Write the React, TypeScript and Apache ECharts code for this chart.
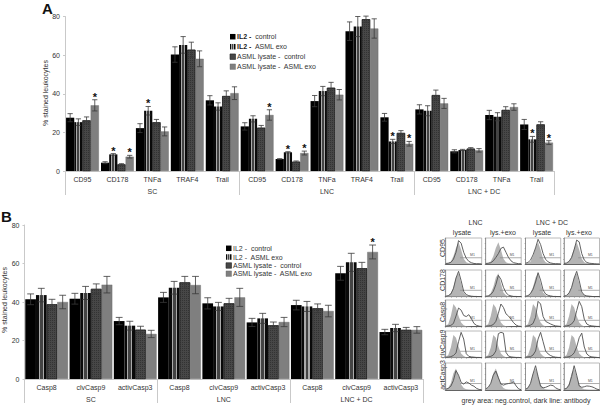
import React, { useEffect, useRef } from "react";
import * as echarts from "echarts";

const FONT = "Liberation Sans";

const seriesNames = ["IL2 -  control", "IL2 -  ASML exo", "ASML lysate -  control", "ASML lysate -  ASML exo"];

// Panel A
const categoriesA = ["CD95", "CD178", "TNFa", "TRAF4", "Trail", "CD95", "CD178", "TNFa", "TRAF4", "Trail", "CD95", "CD178", "TNFa", "Trail"];
const groupNamesA = ["SC", "LNC", "LNC + DC"];
const groupSizesA = [5, 5, 4];
const controlA = [27.6, 4.3, 22.2, 60.3, 36.6, 23.1, 6.2, 36.2, 72.4, 27.8, 31.9, 10.2, 29, 24.1];
const exoA = [25.3, 8.6, 31.2, 65.3, 33.4, 27, 9.7, 41.4, 74.8, 15.3, 31.2, 10.9, 28.1, 16.4];
const lysateA = [26.2, 3.4, 25.2, 62.8, 38.8, 22.4, 4.8, 43.1, 78.6, 19.7, 39.3, 11.6, 31.6, 24.1];
const lysExoA = [34, 7.4, 20.5, 58.1, 40.3, 29, 9.3, 39.5, 73.8, 14.1, 35, 10.7, 33.1, 14.7];
const controlErrA = [2.1, 0.5, 2.3, 4, 2.4, 1.9, 0.2, 2.9, 4.8, 2, 2.4, 0.8, 2.4, 2.6];
const exoErrA = [1.7, 0.4, 2.2, 4.3, 1.9, 1.6, 0.3, 2.4, 5.2, 1.1, 2.6, 0.3, 2.1, 1.5];
const lysateErrA = [1.8, 0.4, 1.5, 3.9, 2.7, 1.2, 0.4, 2.8, 1.6, 1.2, 2.6, 0.5, 1.7, 1.4];
const lysExoErrA = [2.9, 0.7, 2.3, 4.1, 3.3, 2.7, 1, 2.7, 5, 1.2, 2.6, 0.9, 1.7, 1];
const starsA = [[0, 3], [1, 1], [1, 3], [2, 1], [5, 3], [6, 1], [6, 3], [9, 1], [9, 3], [13, 1], [13, 3]];

// Panel B
const categoriesB = ["Casp8", "clvCasp9", "activCasp3", "Casp8", "clvCasp9", "activCasp3", "Casp8", "clvCasp9", "activCasp3"];
const groupNamesB = ["SC", "LNC", "LNC + DC"];
const groupSizesB = [3, 3, 3];
const controlB = [41.4, 41.7, 30.1, 42.4, 39.3, 29.4, 38.4, 54.9, 24.4];
const exoB = [43.6, 44.7, 27.7, 47.4, 37.7, 31.5, 37.7, 60.6, 26.5];
const lysateB = [38.8, 46.8, 25.6, 50.2, 39.3, 27.9, 36.7, 57.5, 25.5];
const lysExoB = [40, 49, 23.4, 48.8, 42.4, 29.6, 35.3, 66, 25.5];
const controlErrB = [2.8, 2.8, 1.9, 2.6, 2.9, 2.1, 2.5, 3.6, 1.4];
const exoErrB = [3.5, 3.4, 2.3, 3.3, 2.1, 2.6, 2.6, 4.7, 1.9];
const lysateErrB = [2.6, 2.6, 1.8, 3.1, 2.6, 1.7, 2.3, 3.1, 1.3];
const lysExoErrB = [3.5, 4.3, 1.9, 4.5, 4.7, 2.4, 3, 3.6, 1.7];
const starsB = [[7, 3]];

// Flow cytometry histograms (% of panel height per bin)
const rowNames = ["CD95", "CD178", "Casp8", "clvCasp9", "actCasp3"];
const negCD95 = [2, 4, 10, 30, 62, 84, 55, 20, 7, 3, 1, 0, 0, 0, 0];
const negCD178 = [2, 4, 14, 36, 72, 88, 50, 16, 5, 2, 1, 0, 0, 0, 0];
const negCasp8 = [3, 10, 40, 85, 72, 40, 16, 5, 2, 1, 0, 0, 0, 0, 0];
const negClv = [3, 10, 38, 85, 75, 42, 16, 6, 2, 1, 0, 0, 0, 0, 0];
const negAct = [3, 8, 25, 62, 80, 52, 20, 7, 3, 1, 0, 0, 0, 0, 0];
const negatives = [negCD95, negCD178, negCasp8, negClv, negAct];

const cd95Lys = [2, 3, 6, 18, 45, 90, 80, 45, 22, 10, 5, 2, 1, 1, 0];
const cd95Exo = [2, 3, 5, 12, 25, 40, 60, 65, 45, 25, 12, 5, 3, 1, 1];
const cd95DcLys = [3, 6, 15, 35, 62, 95, 75, 40, 18, 8, 4, 2, 1, 1, 0];
const cd95DcExo = [2, 4, 10, 25, 55, 92, 85, 40, 15, 6, 3, 2, 1, 0, 0];
const cd178Lys = [2, 4, 10, 30, 70, 95, 60, 20, 8, 4, 2, 1, 1, 0, 0];
const cd178Exo = [2, 3, 8, 20, 45, 80, 65, 35, 15, 6, 3, 1, 1, 0, 0];
const cd178DcLys = [2, 4, 12, 28, 55, 90, 62, 25, 10, 5, 3, 1, 1, 0, 0];
const cd178DcExo = [2, 5, 14, 35, 70, 95, 60, 18, 6, 3, 2, 1, 0, 0, 0];
const casp8Lys = [2, 3, 5, 12, 40, 70, 62, 42, 38, 45, 30, 12, 5, 2, 1];
const casp8Exo = [2, 3, 4, 8, 20, 50, 85, 72, 48, 40, 28, 15, 6, 2, 1];
const casp8DcLys = [2, 3, 6, 12, 35, 95, 85, 38, 20, 15, 10, 6, 3, 2, 1];
const casp8DcExo = [2, 3, 5, 10, 22, 60, 95, 75, 28, 10, 5, 3, 2, 1, 1];
const clvLys = [2, 2, 4, 8, 18, 60, 95, 70, 15, 5, 3, 2, 1, 1, 0];
const clvExo = [2, 3, 5, 10, 25, 90, 95, 92, 20, 6, 3, 2, 1, 1, 0];
const clvDcLys = [2, 3, 4, 10, 25, 70, 95, 60, 25, 14, 8, 4, 2, 1, 1];
const clvDcExo = [2, 2, 4, 8, 18, 40, 75, 92, 40, 14, 6, 3, 2, 1, 0];
const actLys = [3, 6, 14, 35, 72, 55, 28, 22, 30, 26, 18, 14, 6, 2, 1];
const actExo = [4, 10, 25, 55, 70, 45, 22, 18, 22, 24, 26, 30, 15, 4, 1];
const actDcLys = [3, 8, 25, 60, 90, 50, 14, 8, 10, 14, 18, 16, 8, 3, 1];
const actDcExo = [3, 6, 18, 50, 90, 55, 15, 10, 12, 15, 14, 12, 8, 3, 1];
const antibodies = [
  [cd95Lys, cd95Exo, cd95DcLys, cd95DcExo],
  [cd178Lys, cd178Exo, cd178DcLys, cd178DcExo],
  [casp8Lys, casp8Exo, casp8DcLys, casp8DcExo],
  [clvLys, clvExo, clvDcLys, clvDcExo],
  [actLys, actExo, actDcLys, actDcExo],
];
const gateStart = 5.6;
const gateEnd = 14;
const gateLevel = 24;
const gateLabelAt = 10.4;

const stripes = {
  type: "linear", x: 0, y: 0, x2: 1, y2: 0,
  colorStops: [
    { offset: 0, color: "#0a0a0a" }, { offset: 0.26, color: "#0a0a0a" },
    { offset: 0.26, color: "#aaaaaa" }, { offset: 0.37, color: "#aaaaaa" },
    { offset: 0.37, color: "#444" }, { offset: 0.63, color: "#444" },
    { offset: 0.63, color: "#aaaaaa" }, { offset: 0.74, color: "#aaaaaa" },
    { offset: 0.74, color: "#0a0a0a" }, { offset: 1, color: "#0a0a0a" },
  ],
};
const barStyles: any[] = [
  { color: "#000" },
  { color: stripes },
  { color: "#474747", borderColor: "#222", borderWidth: 0.6, decal: { symbol: "rect", dashArrayX: [1, 1], dashArrayY: [1, 1], color: "#333" } },
  { color: "#7f7f7f", borderColor: "#666", borderWidth: 0.4 },
];

function panelSeries(xIdx: number, yIdx: number, values: number[][], errs: number[][], stars: number[][], gapFrac: number) {
  const out: any[] = [];
  values.forEach((vals, s) => {
    out.push({
      type: "bar", name: seriesNames[s], xAxisIndex: xIdx, yAxisIndex: yIdx,
      data: vals, barGap: "0%", barCategoryGap: `${gapFrac * 100}%`, itemStyle: barStyles[s],
    });
  });
  values.forEach((vals, s) => {
    const starSet = stars.filter((p) => p[1] === s).map((p) => p[0]);
    out.push({
      type: "custom", xAxisIndex: xIdx, yAxisIndex: yIdx, silent: true, z: 5,
      encode: { x: 0, y: [1, 2] },
      data: vals.map((v, i) => [i, v + errs[s][i], v - errs[s][i], starSet.includes(i) ? 1 : 0]),
      renderItem: (_p: any, api: any) => {
        const cat = api.value(0);
        const top = api.coord([cat, api.value(1)]);
        const bot = api.coord([cat, api.value(2)]);
        const band = api.size([1, 0])[0];
        const barW = (band * (1 - gapFrac)) / 4;
        const x = top[0] + (s - 1.5) * barW;
        const cap = barW * 0.32;
        const ls = { stroke: "#3a3a3a", lineWidth: 0.8 };
        const children: any[] = [
          { type: "line", shape: { x1: x, y1: top[1], x2: x, y2: bot[1] }, style: ls },
          { type: "line", shape: { x1: x - cap, y1: top[1], x2: x + cap, y2: top[1] }, style: ls },
          { type: "line", shape: { x1: x - cap, y1: bot[1], x2: x + cap, y2: bot[1] }, style: ls },
        ];
        if (api.value(3) === 1) {
          children.push({
            type: "text",
            style: { text: "*", x, y: top[1] - 8.5, fontSize: 11, fontWeight: "bold", fontFamily: FONT, fill: "#111", textAlign: "center", textVerticalAlign: "top" },
          });
        }
        return { type: "group", children };
      },
    });
  });
  return out;
}

function groupAxis(gridIdx: number, names: string[], sizes: number[]) {
  const bounds = [0];
  sizes.forEach((n) => bounds.push(bounds[bounds.length - 1] + n));
  const centers = sizes.map((_, i) => (bounds[i] + bounds[i + 1]) / 2);
  return {
    type: "value", gridIndex: gridIdx, position: "bottom", min: 0, max: bounds[bounds.length - 1],
    axisLine: { show: false },
    splitLine: { show: false },
    axisTick: { show: true, customValues: bounds, length: 24, lineStyle: { color: "#c9c9c9", width: 1 } },
    axisLabel: {
      show: true, customValues: centers, margin: 17, fontSize: 7, color: "#333", fontFamily: FONT,
      formatter: (v: number) => names[centers.indexOf(v)] ?? "",
    },
  };
}

function catAxis(gridIdx: number, cats: string[]) {
  return {
    type: "category", gridIndex: gridIdx, data: cats, position: "bottom",
    axisLine: { show: true, onZero: false, lineStyle: { color: "#c9c9c9", width: 1 } },
    axisTick: { show: false },
    axisLabel: { interval: 0, fontSize: 7, margin: 5, color: "#333", fontFamily: FONT },
  };
}

function valueAxis(gridIdx: number) {
  return {
    type: "value", gridIndex: gridIdx, min: 0, max: 80, interval: 20,
    splitLine: { show: false },
    axisLine: { show: true, onZero: false, lineStyle: { color: "#c9c9c9", width: 1 } },
    axisTick: { show: true, length: 2, lineStyle: { color: "#c9c9c9" } },
    axisLabel: { fontSize: 7, margin: 5, color: "#333", fontFamily: FONT },
  };
}

function txt(text: string, x: number, y: number, opts: any = {}) {
  const { rotation, ...style } = opts;
  return {
    type: "text", x, y, rotation: rotation ?? 0, silent: true,
    style: { text, fontFamily: FONT, fontSize: 7, fill: "#333", align: "center", verticalAlign: "middle", ...style },
  };
}

function legendEls(iconX: number, rowYs: number[], boldIL2: boolean) {
  const els: any[] = [];
  seriesNames.forEach((n, i) => {
    const s = barStyles[i];
    els.push({ type: "rect", silent: true, shape: { x: iconX, y: rowYs[i] - 2.75, width: 5.5, height: 5.5 }, style: { fill: s.color, stroke: s.borderColor, lineWidth: s.borderWidth ?? 0 } });
    const label = boldIL2 && n.startsWith("IL2") ? `{b|IL2 -}${n.slice(5)}` : n;
    els.push(txt(label, iconX + 7, rowYs[i], { align: "left", rich: { b: { fontSize: 7, fontWeight: "bold", fontFamily: FONT, fill: "#222" } } }));
  });
  return els;
}

function buildOption() {
  const grids: any[] = [
    { left: 65, top: 16.5, width: 489, height: 154.5 },
    { left: 24.5, top: 225, width: 398.5, height: 154 },
  ];
  const xAxes: any[] = [catAxis(0, categoriesA), groupAxis(0, groupNamesA, groupSizesA), catAxis(1, categoriesB), groupAxis(1, groupNamesB, groupSizesB)];
  const yAxes: any[] = [valueAxis(0), valueAxis(1)];
  const series: any[] = [
    ...panelSeries(0, 0, [controlA, exoA, lysateA, lysExoA], [controlErrA, exoErrA, lysateErrA, lysExoErrA], starsA, 0.06),
    ...panelSeries(2, 1, [controlB, exoB, lysateB, lysExoB], [controlErrB, exoErrB, lysateErrB, lysExoErrB], starsB, 0.035),
  ];

  const colLeft = [445.7, 485.7, 525.5, 564];
  const colWidth = [36, 35.5, 35.2, 35.5];
  const rowTop = [238, 270, 300, 331, 363];
  const rowHeight = [26, 26.7, 26.7, 26.7, 27];
  antibodies.forEach((row, r) => {
    row.forEach((ab, c) => {
      const g = grids.length;
      grids.push({ left: colLeft[c], top: rowTop[r], width: colWidth[c], height: rowHeight[r], show: true, borderColor: "#a8a8a8", borderWidth: 0.8, backgroundColor: "transparent" });
      xAxes.push({
        type: "value", gridIndex: g, min: 0, max: 14, interval: 2,
        axisLine: { show: true, lineStyle: { color: "#444", width: 0.8 } },
        axisTick: { show: true, length: 1, lineStyle: { color: "#666", width: 0.5 } },
        axisLabel: { show: false }, splitLine: { show: false },
      });
      yAxes.push({
        type: "value", gridIndex: g, min: 0, max: 100, interval: 20,
        axisLine: { show: true, lineStyle: { color: "#777", width: 0.6 } },
        axisTick: { show: true, length: 1, lineStyle: { color: "#777", width: 0.5 } },
        axisLabel: { show: false }, splitLine: { show: false },
      });
      const xi = xAxes.length - 1;
      const yi = yAxes.length - 1;
      series.push({
        type: "line", xAxisIndex: xi, yAxisIndex: yi, silent: true, showSymbol: false, symbol: "none",
        data: negatives[r].map((v, i) => [i, v]),
        lineStyle: { width: 0 }, areaStyle: { color: "#b4b4b4", opacity: 1 }, itemStyle: { color: "#b4b4b4" },
      });
      series.push({
        type: "line", xAxisIndex: xi, yAxisIndex: yi, silent: true, showSymbol: false, symbol: "none",
        data: [[gateStart, gateLevel], [gateEnd, gateLevel]],
        lineStyle: { width: 0.7, color: "#8a8a8a" }, itemStyle: { color: "#8a8a8a" },
        markPoint: {
          silent: true, symbol: "circle", symbolSize: 0,
          data: [{ coord: [gateLabelAt, gateLevel] }],
          label: { show: true, formatter: "M1", position: "top", distance: 0.5, fontSize: 3.5, color: "#555", fontFamily: FONT },
        },
      });
      series.push({
        type: "line", xAxisIndex: xi, yAxisIndex: yi, silent: true, showSymbol: false, symbol: "none",
        data: ab.map((v, i) => [i, v]), z: 4,
        lineStyle: { width: 0.9, color: "#505050" }, itemStyle: { color: "#505050" },
      });
    });
  });

  const rowCenters = [248, 280, 312, 344, 375];
  const graphicEls: any[] = [
    txt("A", 47.5, 8, { fontSize: 15, fontWeight: "bold", fill: "#111" }),
    txt("B", 6.5, 216, { fontSize: 15, fontWeight: "bold", fill: "#111" }),
    txt("% stained leukocytes", 45, 93, { rotation: Math.PI / 2 }),
    txt("% stained leukocytes", 4, 300, { rotation: Math.PI / 2 }),
    ...legendEls(230, [36.7, 46.7, 56.7, 66.7], true),
    ...legendEls(226, [248.3, 257, 265.5, 273.7], false),
    txt("LNC", 475.5, 222.5),
    txt("LNC + DC", 552, 222.5),
    txt("lysate", 462, 232),
    txt("lys.+exo", 503, 232),
    txt("lysate", 542, 232),
    txt("lys.+exo", 579, 232),
    txt("grey area: neg.control, dark line: antibody", 526, 400),
    ...rowNames.map((n, i) => txt(n, 442, rowCenters[i], { rotation: Math.PI / 2 })),
  ];

  return {
    animation: false,
    backgroundColor: "#fff",
    textStyle: { fontFamily: FONT },
    grid: grids,
    xAxis: xAxes,
    yAxis: yAxes,
    series,
    graphic: { elements: graphicEls },
  };
}

export default function App() {
  const ref = useRef<HTMLDivElement>(null);
  useEffect(() => {
    document.body.style.margin = "0";
    const chart = echarts.init(ref.current!, undefined, { renderer: "svg" });
    chart.setOption(buildOption() as any);
    return () => chart.dispose();
  }, []);
  return <div ref={ref} style={{ width: 600, height: 405 }} />;
}
